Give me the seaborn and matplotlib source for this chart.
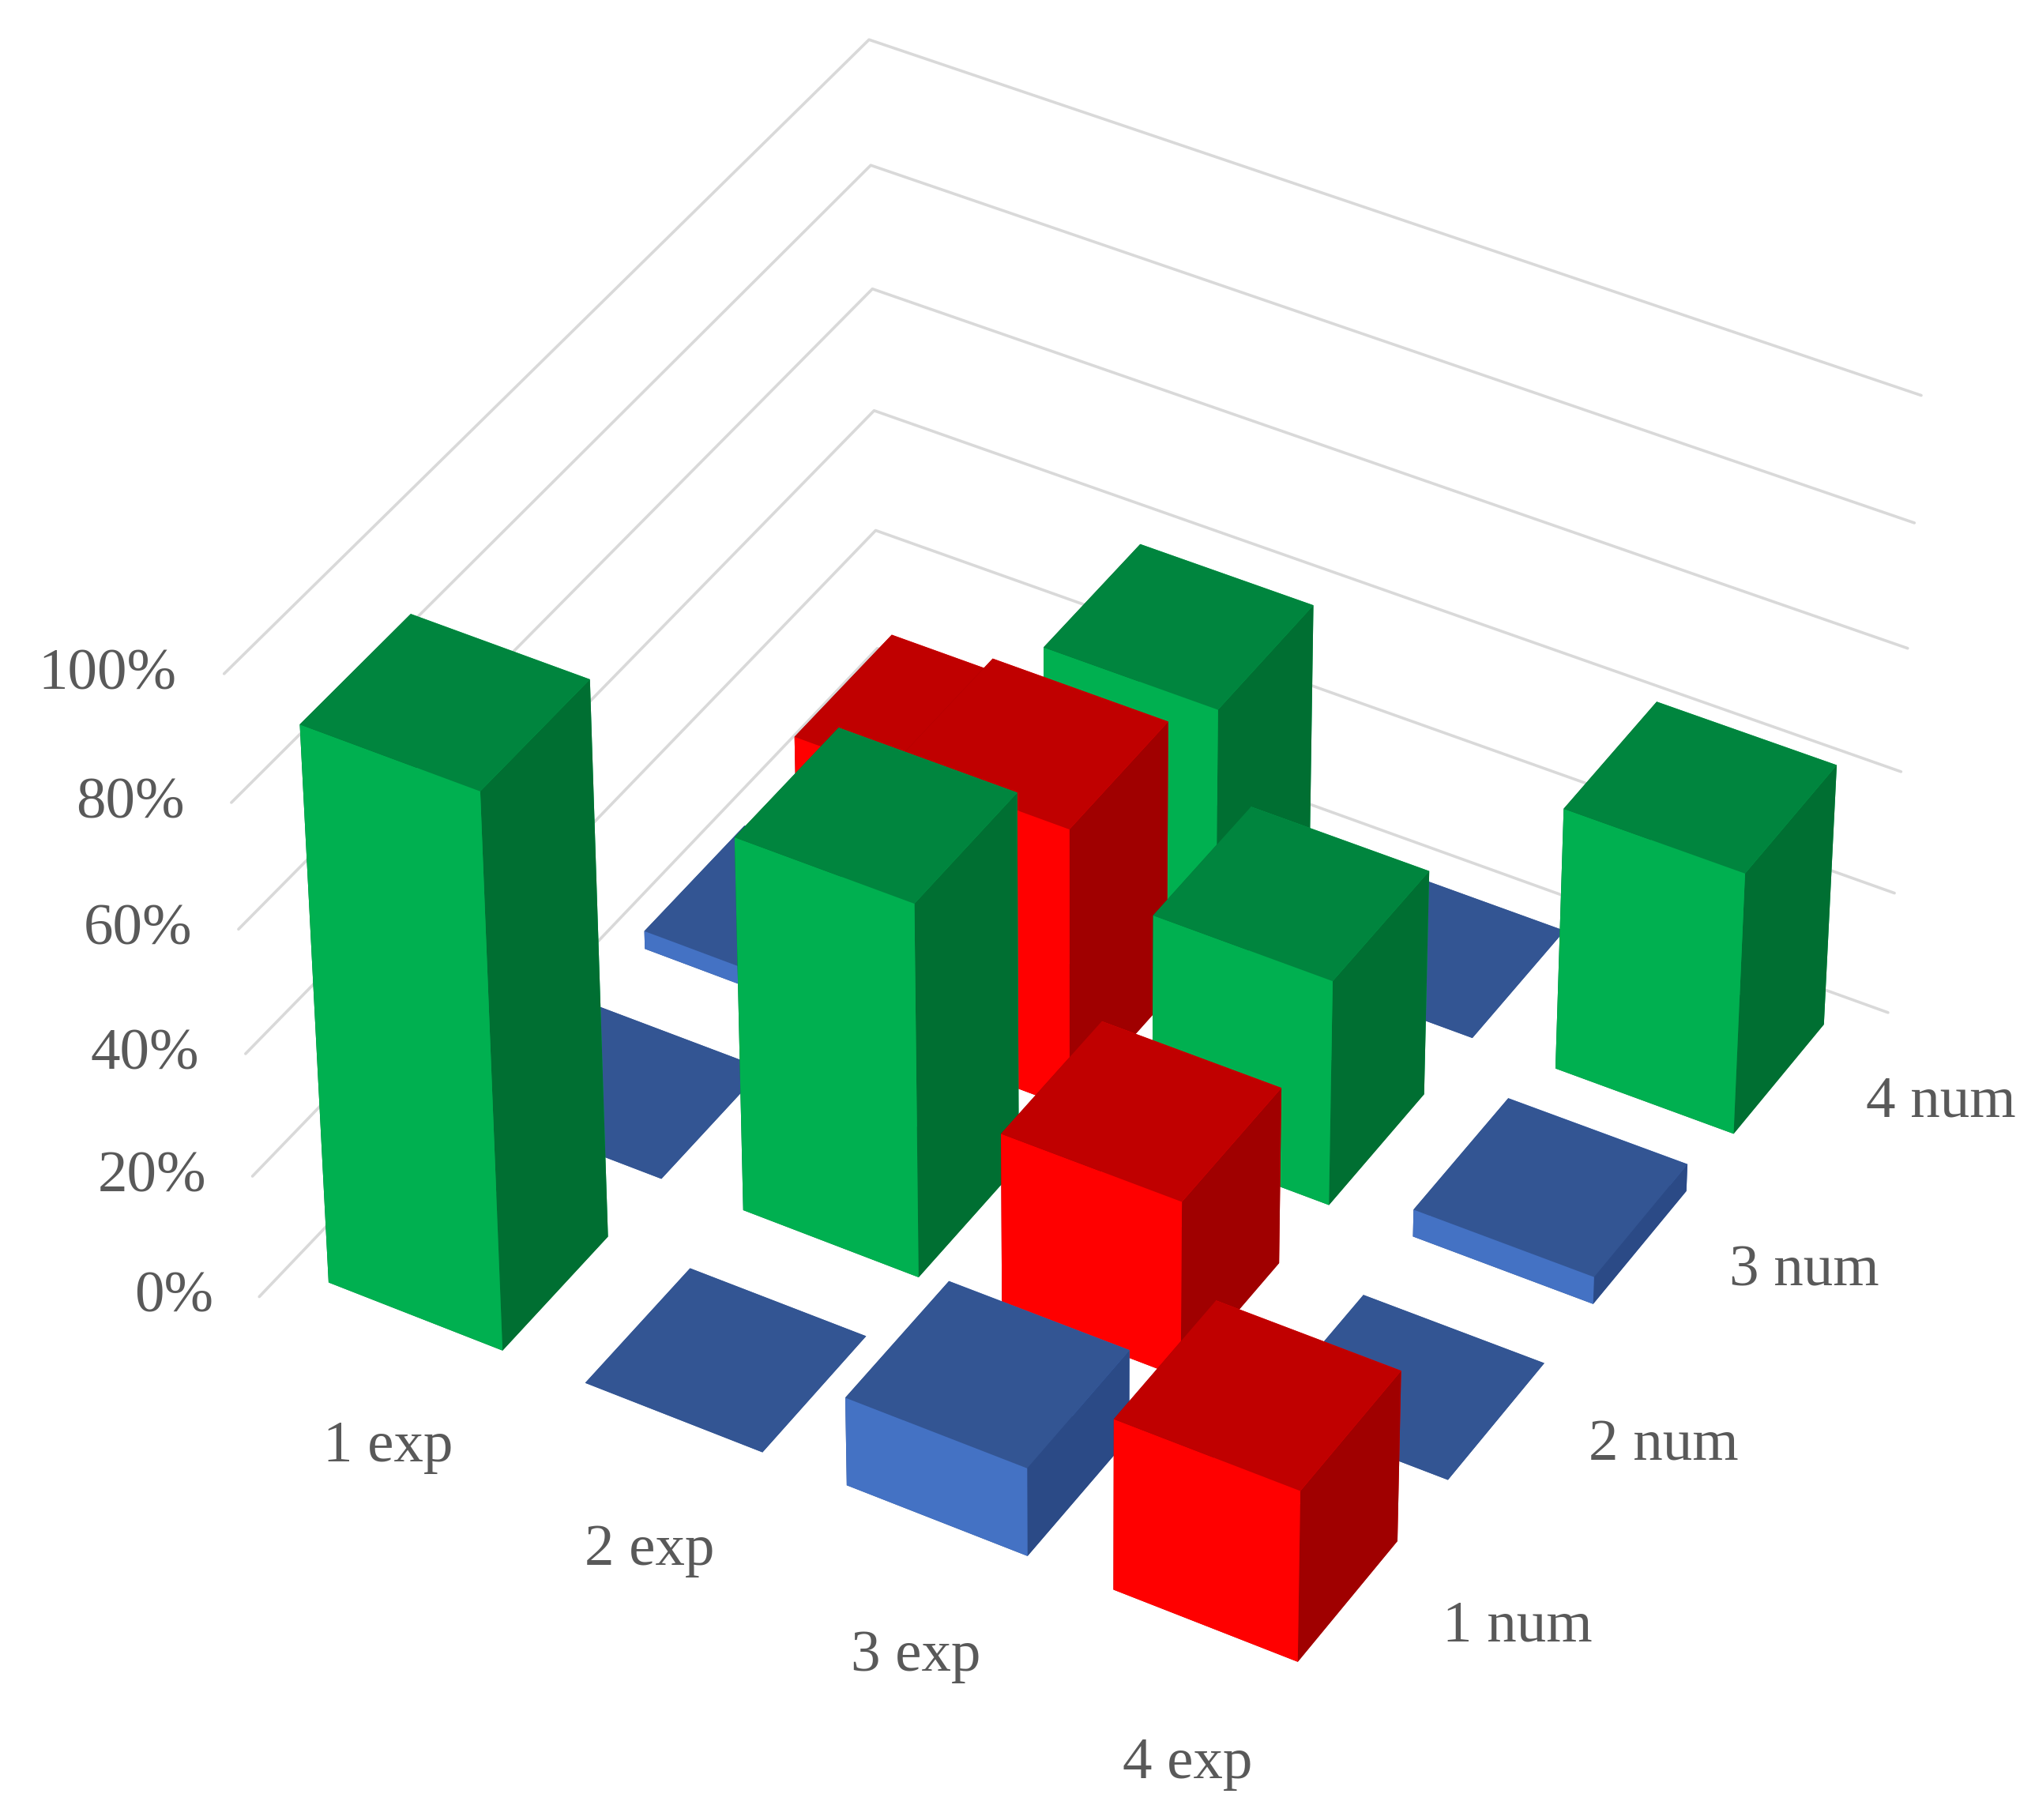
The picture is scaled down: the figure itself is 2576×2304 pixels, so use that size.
import numpy as np
import seaborn as sns
from matplotlib import pyplot as plt

exp_labels = ['1 exp', '2 exp', '3 exp', '4 exp']
num_labels = ['1 num', '2 num', '3 num', '4 num']
z_ticks = [0, 20, 40, 60, 80, 100]

# rows = exp, columns = num, values in %
exp_1 = [90, 0, 3, 9]
exp_2 = [0, 61, 46, 39]
exp_3 = [14.5, 29, 37, 0]
exp_4 = [28, 0, 4.5, 43]
color_1 = ['green', 'blue', 'blue', 'red']
color_2 = ['blue', 'green', 'red', 'green']
color_3 = ['blue', 'red', 'green', 'blue']
color_4 = ['red', 'blue', 'blue', 'green']

# face shades: top, front, side
shades = {'green': ('#00853E', '#00B050', '#006F32'),
          'red': ('#C00000', '#FF0000', '#A00000'),
          'blue': ('#335593', '#4472C4', '#2B4A86')}

sns.set_theme(style='white')
plt.rcParams['font.family'] = ['Liberation Serif', 'DejaVu Serif']

values = np.array([exp_1, exp_2, exp_3, exp_4])
colors = [color_1, color_2, color_3, color_4]

fig = plt.figure(figsize=(12.88, 11.52), dpi=200)
ax = fig.add_subplot(projection='3d', computed_zorder=False)
ax.set_position([0.021, 0.02, 1, 1])
ax.set_proj_type('persp', focal_length=1.25)
ax.view_init(elev=39.2, azim=-60)
ax.set_xlim(0, 4)
ax.set_ylim(0, 4)
ax.set_zlim(0, 100)
ax.set_box_aspect((4, 4, 2.63), zoom=1.012)
ax.set_xticks([])
ax.set_yticks([])
ax.set_zticks([])
ax.set_axis_off()

# gridlines on the two back walls
for z in z_ticks:
    ax.plot([0, 0, 4], [0, 4, 4], [z, z, z], color='#D9D9D9', lw=1.3, zorder=1)
    ax.text(-0.127, -0.08, z, f'{z}%', ha='right', va='center', fontsize=27, color='#595959')

# back to front so that the bars overlap properly
order = sorted(np.ndindex(4, 4), key=lambda c: c[0] * 0.5 - c[1] * 0.86)
for k, (i, j) in enumerate(order):
    top, front, side = shades[colors[i][j]]
    # bar3d faces: bottom, top, front(-y), back(+y), left(-x), right(+x)
    ax.bar3d(i + 0.16, j + 0.175, 0, 0.68, 0.66, values[i, j],
             color=[top, top, front, front, side, side], shade=False, zorder=2 + k, linewidth=0)

for i, label in enumerate(exp_labels):
    ax.text(i + 0.77, -0.415, 0, label, ha='center', va='center', fontsize=27, color='#595959')
for j, label in enumerate(num_labels):
    ax.text(4.37, j + 0.67, 0, label, ha='center', va='center', fontsize=27, color='#595959')

plt.savefig('out.png', dpi=200)
